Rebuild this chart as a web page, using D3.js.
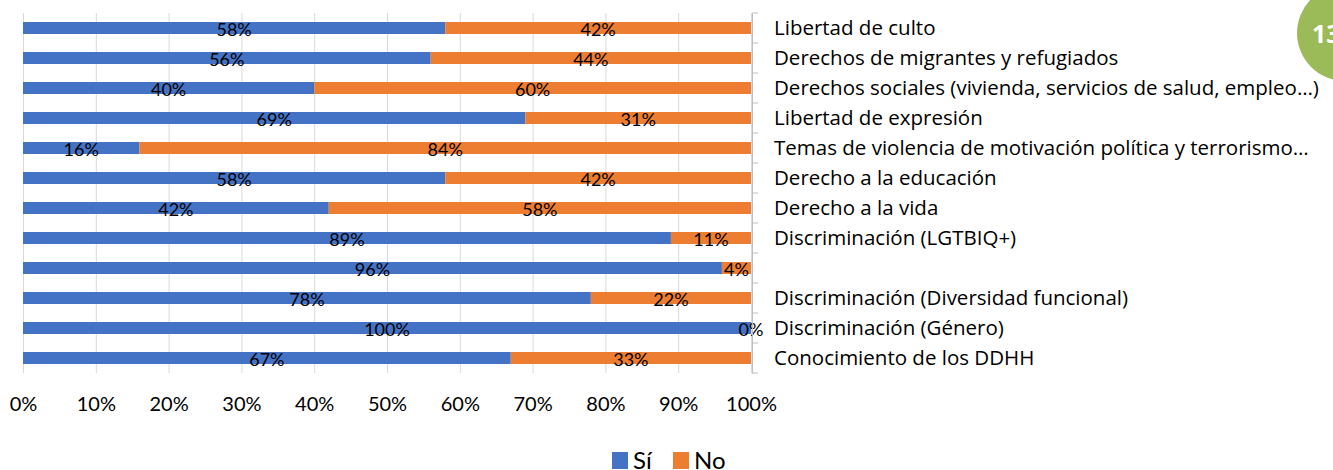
<!DOCTYPE html>
<html>
<head>
<meta charset="utf-8">
<script src="https://cdn.jsdelivr.net/npm/d3@7"></script>
<style>
  body { margin: 0; background: #fff; }
</style>
</head>
<body>
<div id="chart"></div>
<script>
var width = 1333
var height = 470

// data, top row first
const categories = [
  "Libertad de culto",
  "Derechos de migrantes y refugiados",
  "Derechos sociales (vivienda, servicios de salud, empleo…)",
  "Libertad de expresión",
  "Temas de violencia de motivación política y terrorismo…",
  "Derecho a la educación",
  "Derecho a la vida",
  "Discriminación (LGTBIQ+)",
  "",
  "Discriminación (Diversidad funcional)",
  "Discriminación (Género)",
  "Conocimiento de los DDHH"
];
const si = [58, 56, 40, 69, 16, 58, 42, 89, 96, 78, 100, 67];
const no = [42, 44, 60, 31, 84, 42, 58, 11, 4, 22, 0, 33];
const seriesNames = ["Sí", "No"];
const colors = ["#4472C4", "#ED7D31"];
const xTicks = [0, 10, 20, 30, 40, 50, 60, 70, 80, 90, 100];

const numFont = "Lato, sans-serif";
const labelFont = "'Open Sans', sans-serif";

var svg = d3.select("#chart").append("svg")
  .attr("width", width)
  .attr("height", height)

const margin = {top: 13, left: 23, right: 582, bottom: 97}
const innerWidth = width - margin.left - margin.right;
const innerHeight = height - margin.top - margin.bottom;

const g = svg.append("g")
  .attr("transform", `translate(${margin.left}, ${margin.top})`)

const xScale = d3.scaleLinear().domain([0, 100]).range([0, innerWidth]);
const yScale = d3.scaleBand()
  .domain(d3.range(categories.length))
  .range([0, innerHeight])
  .paddingInner(0.6)
  .paddingOuter(0.3);

// gridlines + x axis
const xAxis = d3.axisBottom(xScale)
  .tickValues(xTicks)
  .tickSize(-innerHeight)
  .tickPadding(24)
  .tickFormat(d => d + "%");
const xg = g.append("g")
  .attr("transform", `translate(0, ${innerHeight})`)
  .call(xAxis);
xg.select(".domain").remove();
xg.selectAll("line").attr("stroke", "#d9d9d9");
xg.selectAll("text")
  .style("font-family", numFont)
  .style("font-size", "20px")
  .attr("fill", "#000");

// stacked data
const rows = categories.map((c, i) => ({i: i, values: [si[i], no[i]]}));
const stack = d3.stack().keys([0, 1]).value((d, k) => d.values[k]);
const layers = stack(rows);

layers.forEach((layer, k) => {
  g.selectAll(".bar" + k).data(layer).enter().append("rect")
    .attr("x", d => xScale(d[0]))
    .attr("y", d => yScale(d.data.i))
    .attr("width", d => xScale(d[1]) - xScale(d[0]))
    .attr("height", yScale.bandwidth())
    .attr("fill", colors[k]);
});

layers.forEach((layer, k) => {
  g.selectAll(".lab" + k).data(layer).enter().append("text")
    .attr("x", d => xScale((d[0] + d[1]) / 2))
    .attr("y", d => yScale(d.data.i) + yScale.bandwidth() / 2)
    .attr("dy", "0.42em")
    .attr("text-anchor", "middle")
    .style("font-family", numFont)
    .style("font-size", "18px")
    .attr("fill", "#000")
    .text(d => d.data.values[k] + "%");
});

// category axis on the right
const yAxis = d3.axisRight(yScale)
  .tickSize(0)
  .tickPadding(22)
  .tickFormat(i => categories[i]);
const yg = g.append("g")
  .attr("transform", `translate(${innerWidth + 1}, 0)`)
  .call(yAxis);
yg.select(".domain").attr("stroke", "#bfbfbf");
yg.selectAll("text")
  .style("font-family", labelFont)
  .style("font-size", "20.5px")
  .attr("fill", "#000");

const step = yScale.step();
const bounds = d3.range(categories.length + 1).map(i => i * step);
yg.selectAll(".sep").data(bounds).enter().append("line")
  .attr("x1", 0).attr("x2", 6)
  .attr("y1", d => d).attr("y2", d => d)
  .attr("stroke", "#bfbfbf");

// legend
const legend = svg.append("g").attr("transform", "translate(612, 452)");
const legendX = [0, 61];
seriesNames.forEach((name, k) => {
  legend.append("rect")
    .attr("x", legendX[k]).attr("y", 0)
    .attr("width", 16).attr("height", 17)
    .attr("fill", colors[k]);
  legend.append("text")
    .attr("x", legendX[k] + 21).attr("y", 17)
    .style("font-family", numFont)
    .style("font-size", "24px")
    .attr("fill", "#000")
    .text(name);
});

// page badge
svg.append("circle")
  .attr("cx", 1345).attr("cy", 33).attr("r", 48)
  .attr("fill", "#9BBB59");
svg.append("text")
  .attr("x", 1312).attr("y", 43)
  .style("font-family", labelFont)
  .style("font-size", "25px")
  .style("font-weight", "bold")
  .attr("fill", "#fff")
  .text("13");
</script>
</body>
</html>
